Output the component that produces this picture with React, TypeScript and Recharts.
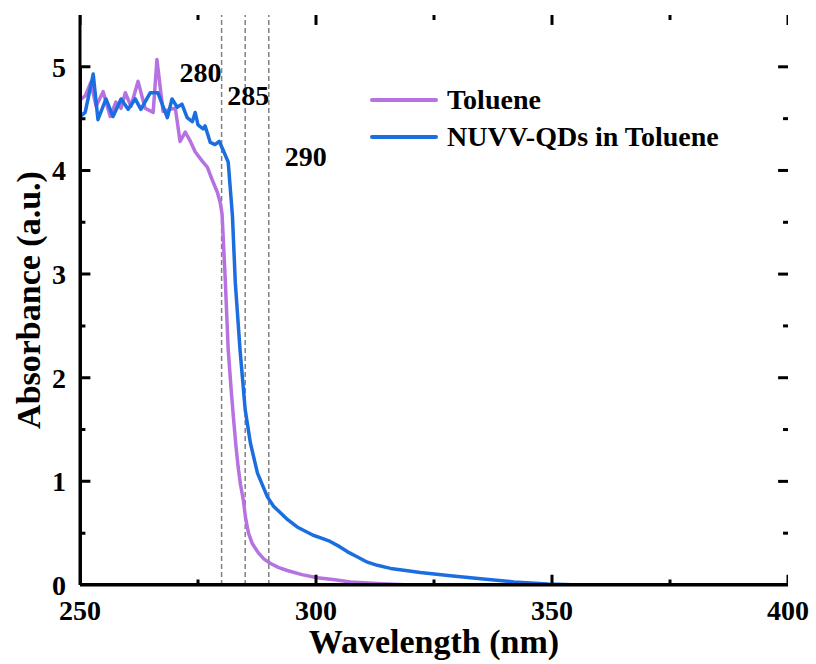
import React from 'react';
import { LineChart, Line, XAxis, YAxis, ReferenceLine, Legend, Label } from 'recharts';

// Toluene (purple)
const tolWl = [250.0, 251.1, 252.3, 253.4, 254.9, 256.4, 257.6, 258.7, 259.6, 260.8, 262.3, 263.8, 265.5, 266.3, 267.6, 269.1, 270.2, 271.2, 272.3, 273.4, 274.4, 275.9, 277.0, 278.0, 279.1, 279.7, 280.1, 280.8, 281.4, 282.0, 282.5, 283.0, 283.5, 284.0, 284.6, 285.1, 285.7, 286.5, 287.8, 289.0, 290.3, 292.0, 293.9, 297.0, 300.3, 304.0, 307.3, 311.0, 315.0, 320.0, 400.0];
const tolAbs = [4.68, 4.72, 4.85, 4.62, 4.76, 4.52, 4.66, 4.60, 4.75, 4.62, 4.86, 4.60, 4.56, 5.07, 4.57, 4.59, 4.60, 4.28, 4.37, 4.28, 4.18, 4.09, 4.03, 3.91, 3.79, 3.69, 3.58, 2.92, 2.27, 1.90, 1.62, 1.36, 1.14, 0.97, 0.82, 0.64, 0.50, 0.40, 0.31, 0.25, 0.21, 0.17, 0.14, 0.10, 0.07, 0.05, 0.03, 0.02, 0.01, 0.0, 0.0];

// NUVV-QDs in Toluene (blue)
const qdWl = [250.0, 251.1, 252.8, 253.8, 255.5, 257.0, 258.7, 260.2, 261.7, 262.9, 264.9, 266.5, 268.5, 269.5, 270.6, 271.6, 272.7, 273.8, 274.4, 275.0, 276.1, 276.5, 277.6, 278.6, 279.5, 280.3, 281.4, 282.3, 282.9, 283.9, 285.0, 286.1, 287.6, 289.7, 291.0, 292.4, 294.0, 296.0, 299.4, 301.0, 303.0, 305.0, 306.7, 308.8, 310.9, 313.0, 315.8, 319.0, 322.1, 328.5, 334.9, 341.9, 349.1, 356.0, 400.0];
const qdAbs = [4.52, 4.56, 4.93, 4.49, 4.69, 4.52, 4.69, 4.59, 4.69, 4.59, 4.75, 4.75, 4.51, 4.69, 4.61, 4.64, 4.51, 4.47, 4.56, 4.44, 4.40, 4.43, 4.27, 4.25, 4.28, 4.20, 4.08, 3.56, 2.92, 2.27, 1.69, 1.37, 1.08, 0.85, 0.76, 0.70, 0.63, 0.56, 0.48, 0.455, 0.42, 0.37, 0.32, 0.27, 0.22, 0.19, 0.16, 0.14, 0.12, 0.09, 0.06, 0.03, 0.01, 0.0, 0.0];

const xMajor = [250, 300, 350, 400];
const xMinor = [275, 325, 375];
const yMajor = [0, 1, 2, 3, 4, 5];
const yMinor = [0.5, 1.5, 2.5, 3.5, 4.5];
const markers = [280, 285, 290];

const seriesNames = ['Toluene', 'NUVV-QDs in Toluene'];
const colors = ['#B672E0', '#1A6EE0'];

const tolData = tolWl.map((w, i) => ({ wl: w, abs: tolAbs[i] }));
const qdData = qdWl.map((w, i) => ({ wl: w, abs: qdAbs[i] }));

const FONT = '"Liberation Serif", "Times New Roman", serif';
const AXIS_LINE = { stroke: '#000', strokeWidth: 3 };
const X_DOMAIN: [number, number] = [250, 400];
const Y_DOMAIN: [number, number] = [0, 5.5];

// tick-mark lengths expressed in data units (about 10 px major / 5 px minor)
const X_TICK_LEN_MAJOR = 0.096; // absorbance units
const X_TICK_LEN_MINOR = 0.048;
const Y_TICK_LEN_MAJOR = 2.1; // nm
const Y_TICK_LEN_MINOR = 1.05;
const X_BASE = 0.004;
const Y_BASE = 250.1;

const xTickLabel = (props: any) => {
  const { x, y, payload } = props;
  return (
    <text x={x} y={y + 35} textAnchor="middle" fontFamily={FONT} fontWeight="bold" fontSize={28} fill="#000">
      {payload.value}
    </text>
  );
};

const yTickLabel = (props: any) => {
  const { x, y, payload } = props;
  return (
    <text x={x - 14} y={y + 10} textAnchor="end" fontFamily={FONT} fontWeight="bold" fontSize={28} fill="#000">
      {payload.value}
    </text>
  );
};

const labelOffsets: Record<number, [number, number]> = { 280: [-21, 82], 285: [3, 105], 290: [37, 166] };

const markerLabel = (value: number) => (props: any) => {
  const vb = props.viewBox || {};
  const [dx, yy] = labelOffsets[value];
  return (
    <text x={vb.x + dx} y={yy} textAnchor="middle" fontFamily={FONT} fontWeight="bold" fontSize={28} fill="#000">
      {value}
    </text>
  );
};

const renderLegend = () => (
  <div style={{ fontFamily: FONT, fontWeight: 'bold', fontSize: 28 }}>
    {seriesNames.map((name, i) => (
      <div key={name} style={{ display: 'flex', alignItems: 'center', height: 37 }}>
        <span style={{ display: 'inline-block', width: 68, height: 4, borderRadius: 2, background: colors[i] }} />
        <span style={{ marginLeft: 9, color: '#000', lineHeight: '37px' }}>{name}</span>
      </div>
    ))}
  </div>
);

const tickSeries = (key: string, pts: { wl: number; abs: number }[]) => (
  <Line
    key={key}
    data={pts}
    dataKey="abs"
    type="linear"
    stroke="#000"
    strokeWidth={3}
    strokeLinecap="butt"
    strokeLinejoin="miter"
    dot={false}
    activeDot={false}
    legendType="none"
    isAnimationActive={false}
  />
);

// top / right: one short series per tick (these render correctly)
const topTicks = (ticks: number[], len: number, tag: string) =>
  ticks.map((t) => tickSeries(`${tag}t${t}`, [{ wl: t, abs: Y_DOMAIN[1] }, { wl: t, abs: Y_DOMAIN[1] - len }]));
const rightTicks = (ticks: number[], len: number, tag: string) =>
  ticks.map((t) => tickSeries(`${tag}r${t}`, [{ wl: X_DOMAIN[1] - len, abs: t }, { wl: X_DOMAIN[1], abs: t }]));

// bottom / left: a single comb polyline running along the frame
const allX = [...xMajor, ...xMinor].sort((a, b) => a - b);
const allY = [...yMajor, ...yMinor].sort((a, b) => a - b);
const bottomComb = allX.flatMap((t) => {
  const len = xMajor.includes(t) ? X_TICK_LEN_MAJOR : X_TICK_LEN_MINOR;
  return [
    { wl: t, abs: X_BASE },
    { wl: t, abs: X_BASE + len },
    { wl: t, abs: X_BASE },
  ];
});
const leftComb = allY.flatMap((t) => {
  const len = yMajor.includes(t) ? Y_TICK_LEN_MAJOR : Y_TICK_LEN_MINOR;
  return [
    { wl: Y_BASE, abs: t },
    { wl: Y_BASE + len, abs: t },
    { wl: Y_BASE, abs: t },
  ];
});

export default function App() {
  return (
    <div style={{ position: 'absolute', left: 0, top: 0, background: '#fff' }}>
      <LineChart width={816} height={664} margin={{ top: 15, right: 28, bottom: 0, left: 0 }}>
        <XAxis
          dataKey="wl"
          type="number"
          domain={X_DOMAIN}
          ticks={xMajor}
          interval={0}
          tickSize={0}
          tickMargin={0}
          tickLine={false}
          height={79}
          axisLine={AXIS_LINE}
          tick={xTickLabel}
          allowDataOverflow
        >
          <Label
            content={(p: any) => {
              const vb = p.viewBox || {};
              return (
                <text x={vb.x + vb.width / 2} y={vb.y + 68} textAnchor="middle" fontFamily={FONT} fontWeight="bold" fontSize={34} fill="#000">
                  Wavelength (nm)
                </text>
              );
            }}
          />
        </XAxis>
        <XAxis
          xAxisId="top"
          orientation="top"
          dataKey="wl"
          type="number"
          domain={X_DOMAIN}
          ticks={xMajor}
          tickLine={false}
          tick={false}
          height={0}
          axisLine={AXIS_LINE}
          allowDataOverflow
        />
        <YAxis
          type="number"
          domain={Y_DOMAIN}
          ticks={yMajor}
          interval={0}
          tickSize={0}
          tickMargin={0}
          tickLine={false}
          width={80}
          axisLine={AXIS_LINE}
          tick={yTickLabel}
          allowDataOverflow
        >
          <Label
            content={(p: any) => {
              const vb = p.viewBox || {};
              const cx = vb.x + 28;
              const cy = vb.y + vb.height / 2;
              return (
                <text x={cx} y={cy} textAnchor="middle" dominantBaseline="central" transform={`rotate(-90 ${cx} ${cy})`} fontFamily={FONT} fontWeight="bold" fontSize={34} fill="#000">
                  Absorbance (a.u.)
                </text>
              );
            }}
          />
        </YAxis>
        <YAxis
          yAxisId="right"
          orientation="right"
          type="number"
          domain={Y_DOMAIN}
          ticks={yMajor}
          tickLine={false}
          tick={false}
          width={0}
          axisLine={AXIS_LINE}
          allowDataOverflow
        />
        {markers.map((m) => (
          <ReferenceLine key={m} x={m} stroke="#808080" strokeWidth={1.5} strokeDasharray="5 3" label={markerLabel(m)} />
        ))}
        {topTicks(xMajor, X_TICK_LEN_MAJOR, 'xM')}
        {topTicks(xMinor, X_TICK_LEN_MINOR, 'xm')}
        {rightTicks(yMajor, Y_TICK_LEN_MAJOR, 'yM')}
        {rightTicks(yMinor, Y_TICK_LEN_MINOR, 'ym')}
        <Line
          data={tolData}
          dataKey="abs"
          name={seriesNames[0]}
          type="linear"
          stroke={colors[0]}
          strokeWidth={3.5}
          strokeLinejoin="round"
          dot={false}
          activeDot={false}
          isAnimationActive={false}
        />
        <Line
          data={qdData}
          dataKey="abs"
          name={seriesNames[1]}
          type="linear"
          stroke={colors[1]}
          strokeWidth={3.5}
          strokeLinejoin="round"
          dot={false}
          activeDot={false}
          isAnimationActive={false}
        />
        {tickSeries('bottomComb', bottomComb)}
        {tickSeries('leftComb', leftComb)}
        <Legend
          layout="horizontal"
          verticalAlign="middle"
          align="center"
          content={renderLegend}
          wrapperStyle={{ position: 'absolute', left: 370, top: 81, width: 'auto' }}
        />
      </LineChart>
    </div>
  );
}
